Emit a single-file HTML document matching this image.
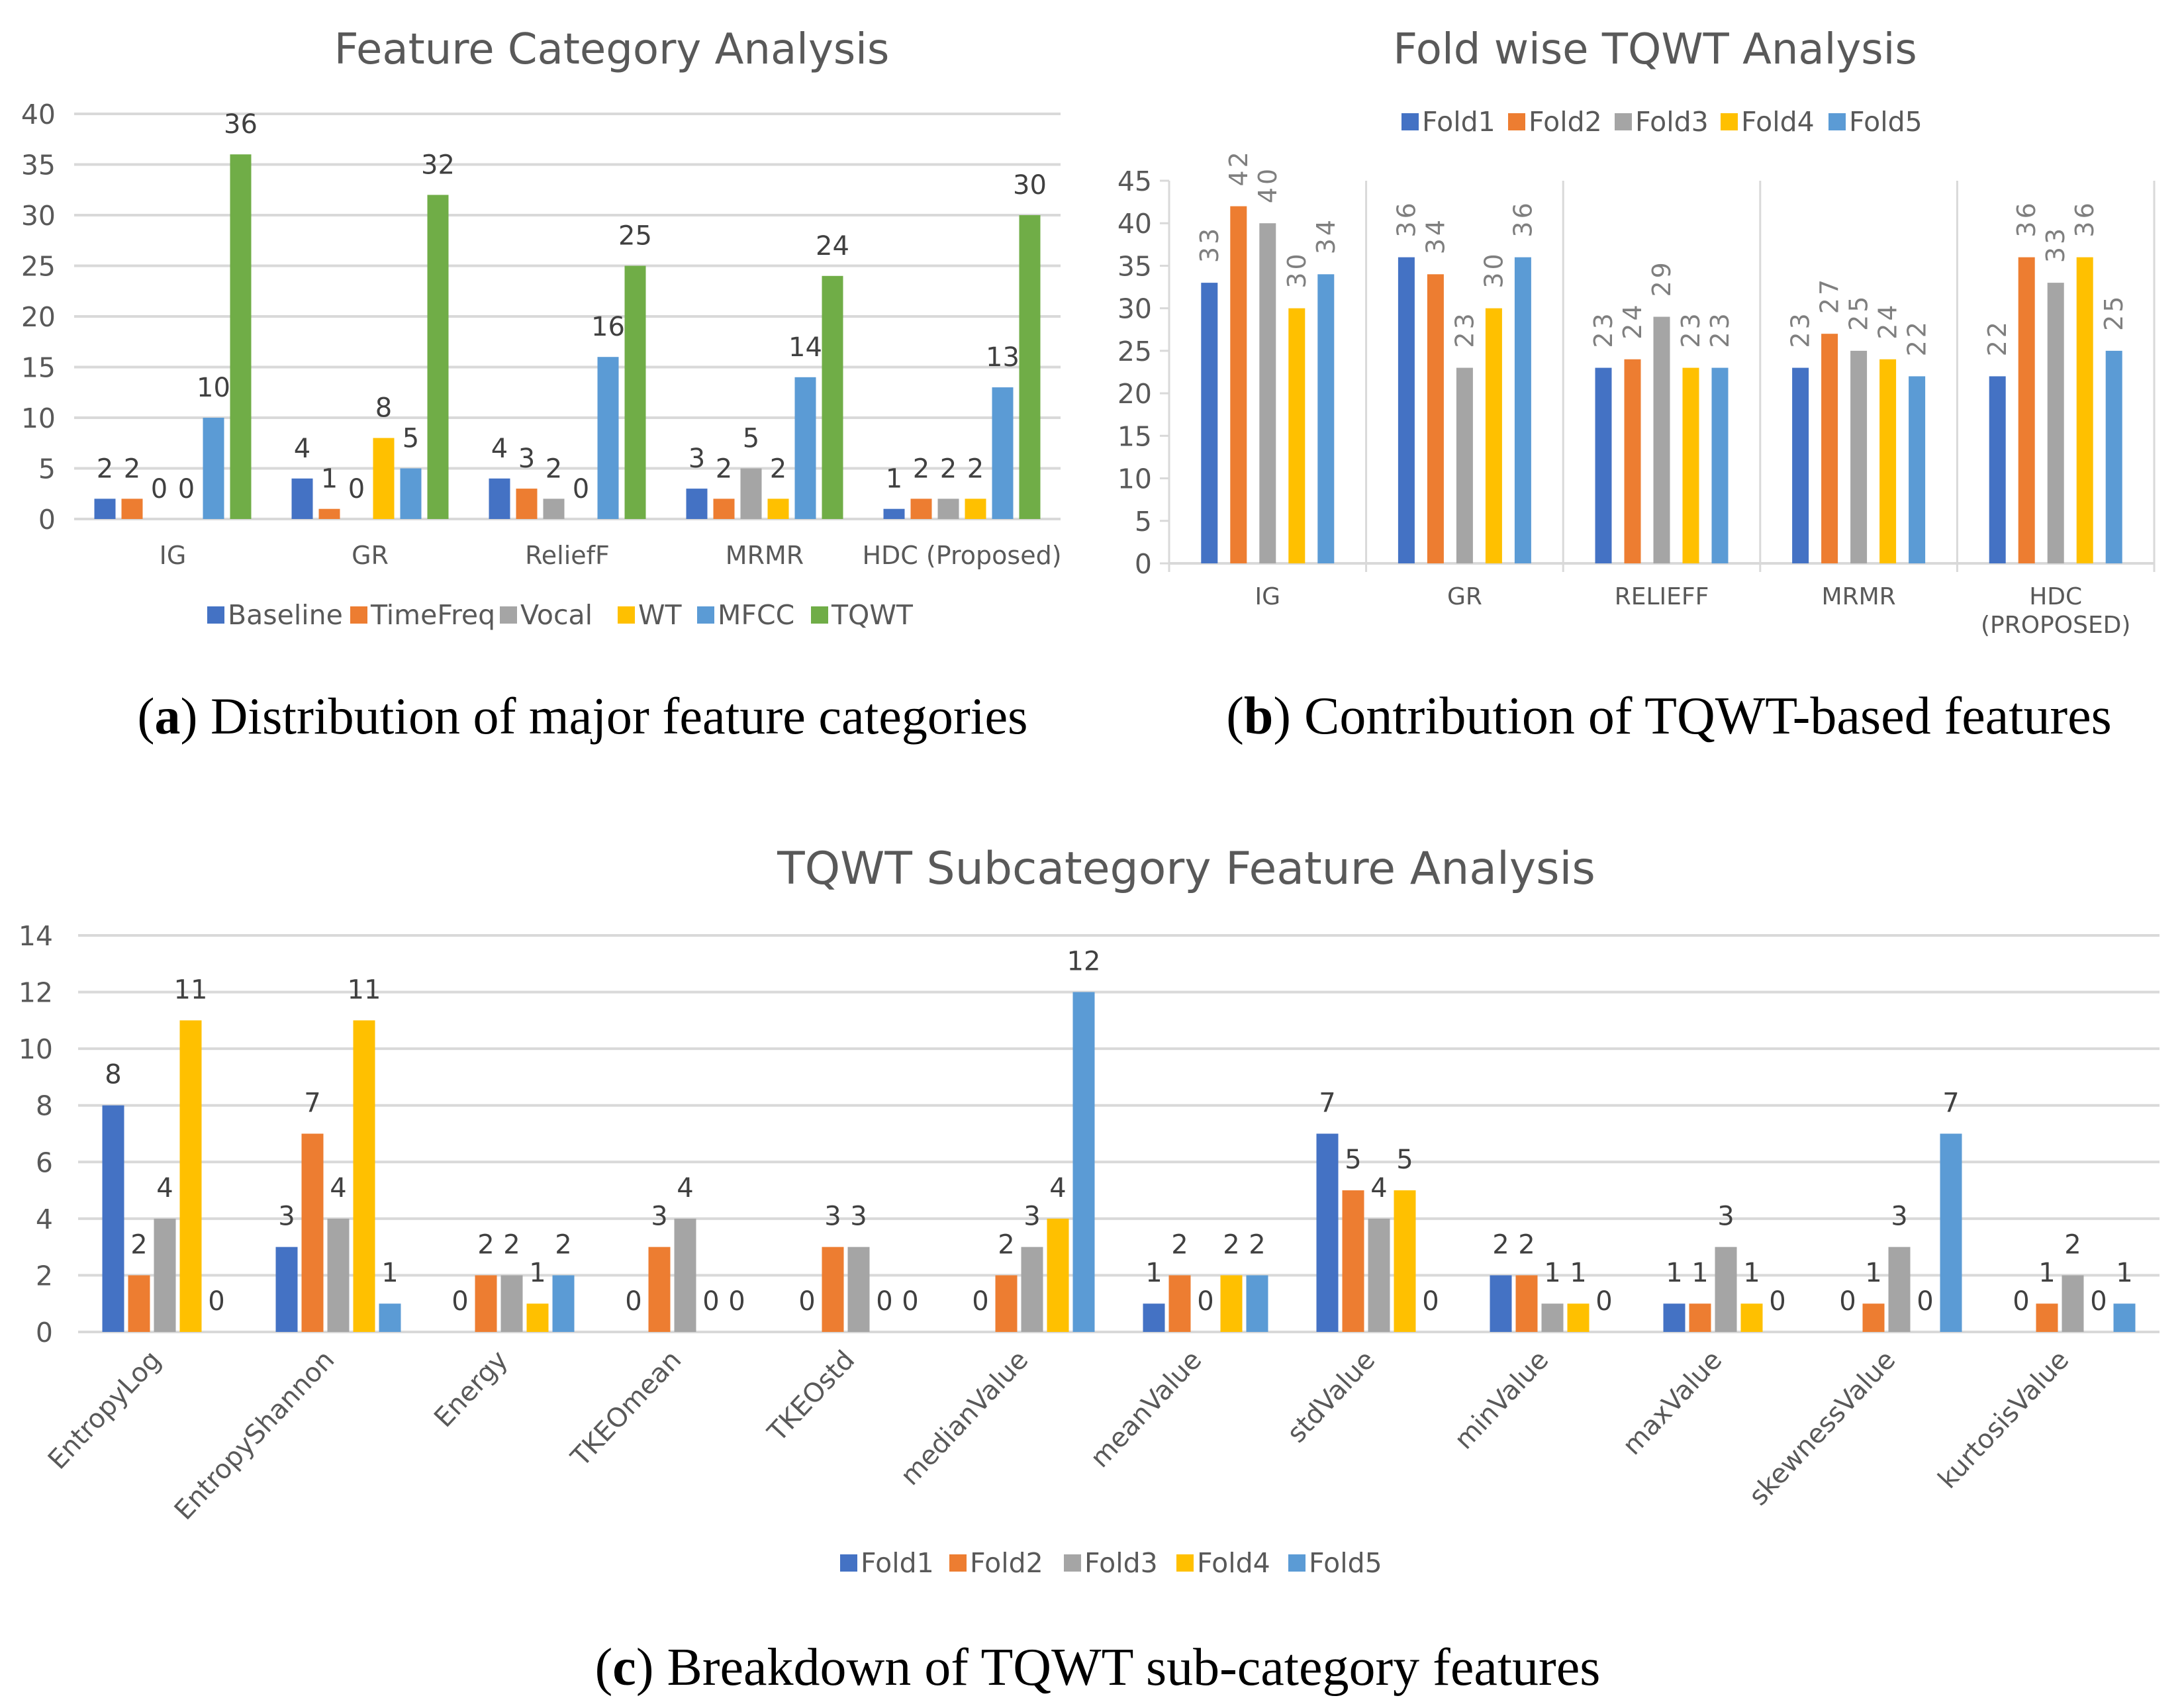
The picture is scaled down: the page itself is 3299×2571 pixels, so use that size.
<!DOCTYPE html>
<html><head><meta charset="utf-8">
<style>
html,body{margin:0;padding:0;background:#fff;}
svg{display:block;}
</style></head>
<body>
<svg id="fig" width="3299" height="2571" viewBox="0 0 3299 2571" xmlns="http://www.w3.org/2000/svg" font-family="'DejaVu Sans', 'Liberation Sans', sans-serif">
<rect x="0" y="0" width="3299" height="2571" fill="#fff"/>
<g id="ga"></g>
<g id="gb"></g>
<g id="gc"></g>
<text x="880" y="1108" text-anchor="middle" font-family="'Liberation Serif', serif" font-size="78" fill="#000">(<tspan font-weight="bold">a</tspan>) Distribution of major feature categories</text>
<text x="2521" y="1108" text-anchor="middle" font-family="'Liberation Serif', serif" font-size="80" fill="#000">(<tspan font-weight="bold">b</tspan>) Contribution of TQWT-based features</text>
<text x="1658" y="2545" text-anchor="middle" font-family="'Liberation Serif', serif" font-size="80" fill="#000">(<tspan font-weight="bold">c</tspan>) Breakdown of TQWT sub-category features</text>
</svg>
<script>
// ---- Chart A data ----
const aCategories = ["IG","GR","ReliefF","MRMR","HDC (Proposed)"];
const aSeriesNames = ["Baseline","TimeFreq","Vocal","WT","MFCC","TQWT"];
const aBaseline = [2,4,4,3,1];
const aTimeFreq = [2,1,3,2,2];
const aVocal = [0,0,2,5,2];
const aWT = [0,8,0,2,2];
const aMFCC = [10,5,16,14,13];
const aTQWT = [36,32,25,24,30];
const aTicks = [0,5,10,15,20,25,30,35,40];
// ---- Chart B data ----
const bCategories = ["IG","GR","RELIEFF","MRMR","HDC|(PROPOSED)"];
const bSeriesNames = ["Fold1","Fold2","Fold3","Fold4","Fold5"];
const bFold1 = [33,36,23,23,22];
const bFold2 = [42,34,24,27,36];
const bFold3 = [40,23,29,25,33];
const bFold4 = [30,30,23,24,36];
const bFold5 = [34,36,23,22,25];
const bTicks = [0,5,10,15,20,25,30,35,40,45];
// ---- Chart C data ----
const cCategories = ["EntropyLog","EntropyShannon","Energy","TKEOmean","TKEOstd","medianValue","meanValue","stdValue","minValue","maxValue","skewnessValue","kurtosisValue"];
const cSeriesNames = ["Fold1","Fold2","Fold3","Fold4","Fold5"];
const cFold1 = [8,3,0,0,0,0,1,7,2,1,0,0];
const cFold2 = [2,7,2,3,3,2,2,5,2,1,1,1];
const cFold3 = [4,4,2,4,3,3,0,4,1,3,3,2];
const cFold4 = [11,11,1,0,0,4,2,5,1,1,0,0];
const cFold5 = [0,1,2,0,0,12,2,0,0,0,7,1];
const cTicks = [0,2,4,6,8,10,12,14];

const NS="http://www.w3.org/2000/svg";
const TXT="#595959";
function mk(parent,tag,attrs,text){
  const e=document.createElementNS(NS,tag);
  for(const k in attrs) e.setAttribute(k,attrs[k]);
  if(text!==undefined) e.textContent=text;
  parent.appendChild(e); return e;
}
function slug(s){return s.toLowerCase().replace(/[^a-z0-9]+/g,'-').replace(/^-|-$/g,'');}

function drawChart(g,cfg){
  const yS=v=>cfg.y0-(v-cfg.tmin)/(cfg.tmax-cfg.tmin)*(cfg.y0-cfg.ytop);
  const n=cfg.cats.length, cw=(cfg.x1-cfg.x0)/n;
  const xS=i=>cfg.x0+cw*(i+0.5);
  const t=mk(g,'text',{x:cfg.titleX,y:cfg.titleY,'text-anchor':'middle','font-size':cfg.titleSize,fill:TXT},cfg.title);
  
  
  cfg.ticks.forEach(v=>{
    const y=yS(v);
    if(cfg.grid){
      const l=mk(g,'line',{x1:cfg.x0,x2:cfg.x1,y1:y,y2:y,stroke:'#D9D9D9','stroke-width':4});
      
      
    } else {
      const l=mk(g,'line',{x1:cfg.x0-14,x2:cfg.x0,y1:y,y2:y,stroke:'#D9D9D9','stroke-width':3});
      
      
    }
    const tl=mk(g,'text',{x:cfg.tickX,y:y+15,'text-anchor':'end','font-size':cfg.tickSize,fill:TXT},String(v));
    
    
  });
  if(!cfg.grid){
    const ax=mk(g,'line',{x1:cfg.x0,x2:cfg.x0,y1:yS(cfg.tmax),y2:cfg.y0+13,stroke:'#D9D9D9','stroke-width':3});
    
    
    const bx=mk(g,'line',{x1:cfg.x0,x2:cfg.x1,y1:cfg.y0,y2:cfg.y0,stroke:'#D9D9D9','stroke-width':4});
    
    
    for(let i=1;i<=n;i++){
      const xx=cfg.x0+cw*i;
      const s=mk(g,'line',{x1:xx,x2:xx,y1:yS(cfg.tmax),y2:cfg.y0+13,stroke:'#D9D9D9','stroke-width':3});
      
      
    }
  }
  const ns=cfg.series.length;
  const span=(ns-1)*cfg.step+cfg.bw;
  cfg.series.forEach((vals,si)=>{
    vals.forEach((v,i)=>{
      const x=xS(i)-span/2+si*cfg.step;
      const y=yS(v);
      if(v>0){
        const r=mk(g,'rect',{x:x,y:y,width:cfg.bw,height:cfg.y0-y,fill:cfg.colors[si]});
        
        
      }
      let lb;
      if(cfg.rotLabels){
        const cx=x+cfg.bw/2+13, cy=y-30;
        lb=mk(g,'text',{x:cx,y:cy,'text-anchor':'start','font-size':cfg.valSize,fill:'#7F7F7F',transform:`rotate(-90 ${cx} ${cy})`,'letter-spacing':'4'},String(v));
      } else {
        lb=mk(g,'text',{x:x+cfg.bw/2,y:y-cfg.valGap,'text-anchor':'middle','font-size':cfg.valSize,fill:'#404040'},String(v));
      }
      
      
    });
  });
  cfg.cats.forEach((c,i)=>{
    let e;
    if(cfg.rotCats){
      const ax=xS(i)-4, ay=cfg.y0+44;
      e=mk(g,'text',{x:ax,y:ay,'text-anchor':'end','font-size':cfg.catSize,fill:TXT,transform:`rotate(-47 ${ax} ${ay})`},c);
    } else {
      const parts=c.split('|');
      e=mk(g,'text',{x:xS(i),y:cfg.catY,'text-anchor':'middle','font-size':cfg.catSize,fill:TXT});
      parts.forEach((p,k)=>{mk(e,'tspan',{x:xS(i),dy:k?cfg.catSize*1.2:0},p);});
    }
    
    
  });
  cfg.names.forEach((nm,si)=>{
    const lx=cfg.legX[si];
    const lg=mk(g,'g',{});
    
    
    mk(lg,'rect',{x:lx,y:cfg.legY-cfg.legSq+2,width:cfg.legSq,height:cfg.legSq,fill:cfg.colors[si]});
    mk(lg,'text',{x:lx+cfg.legSq+5,y:cfg.legY+3,'font-size':cfg.legSize,fill:TXT},nm);
  });
}
const C6=["#4472C4","#ED7D31","#A5A5A5","#FFC000","#5B9BD5","#70AD47"];
drawChart(document.getElementById('ga'),{
  title:"Feature Category Analysis",titleX:924,titleY:96,titleSize:64,
  cats:aCategories,names:aSeriesNames,series:[aBaseline,aTimeFreq,aVocal,aWT,aMFCC,aTQWT],colors:C6,
  ticks:aTicks,tmin:0,tmax:40,x0:112,x1:1602,y0:784,ytop:172,grid:true,
  tickX:84,tickSize:41,bw:32,step:41,valSize:40,valGap:32,
  catY:852,catSize:38,legX:[313,529,755,933,1053,1225],legY:940,legSq:26,legSize:41
});
drawChart(document.getElementById('gb'),{
  title:"Fold wise TQWT Analysis",titleX:2500,titleY:96,titleSize:64,
  cats:bCategories,names:bSeriesNames,series:[bFold1,bFold2,bFold3,bFold4,bFold5],colors:C6,
  ticks:bTicks,tmin:0,tmax:45,x0:1766,x1:3254,y0:851,ytop:273,grid:false,rotLabels:true,
  tickX:1740,tickSize:41,bw:25,step:44,valSize:38,
  catY:913,catSize:36,legX:[2117,2278,2439,2599,2762],legY:195,legSq:26,legSize:41
});
drawChart(document.getElementById('gc'),{
  title:"TQWT Subcategory Feature Analysis",titleX:1792,titleY:1335,titleSize:68,
  cats:cCategories,names:cSeriesNames,series:[cFold1,cFold2,cFold3,cFold4,cFold5],colors:C6,
  ticks:cTicks,tmin:0,tmax:14,x0:118,x1:3262,y0:2012,ytop:1413,grid:true,rotCats:true,
  tickX:80,tickSize:41,bw:33,step:39,valSize:40,valGap:33,
  catSize:40,legX:[1269,1434,1607,1777,1946],legY:2372,legSq:26,legSize:41
});
</script>
</body></html>
